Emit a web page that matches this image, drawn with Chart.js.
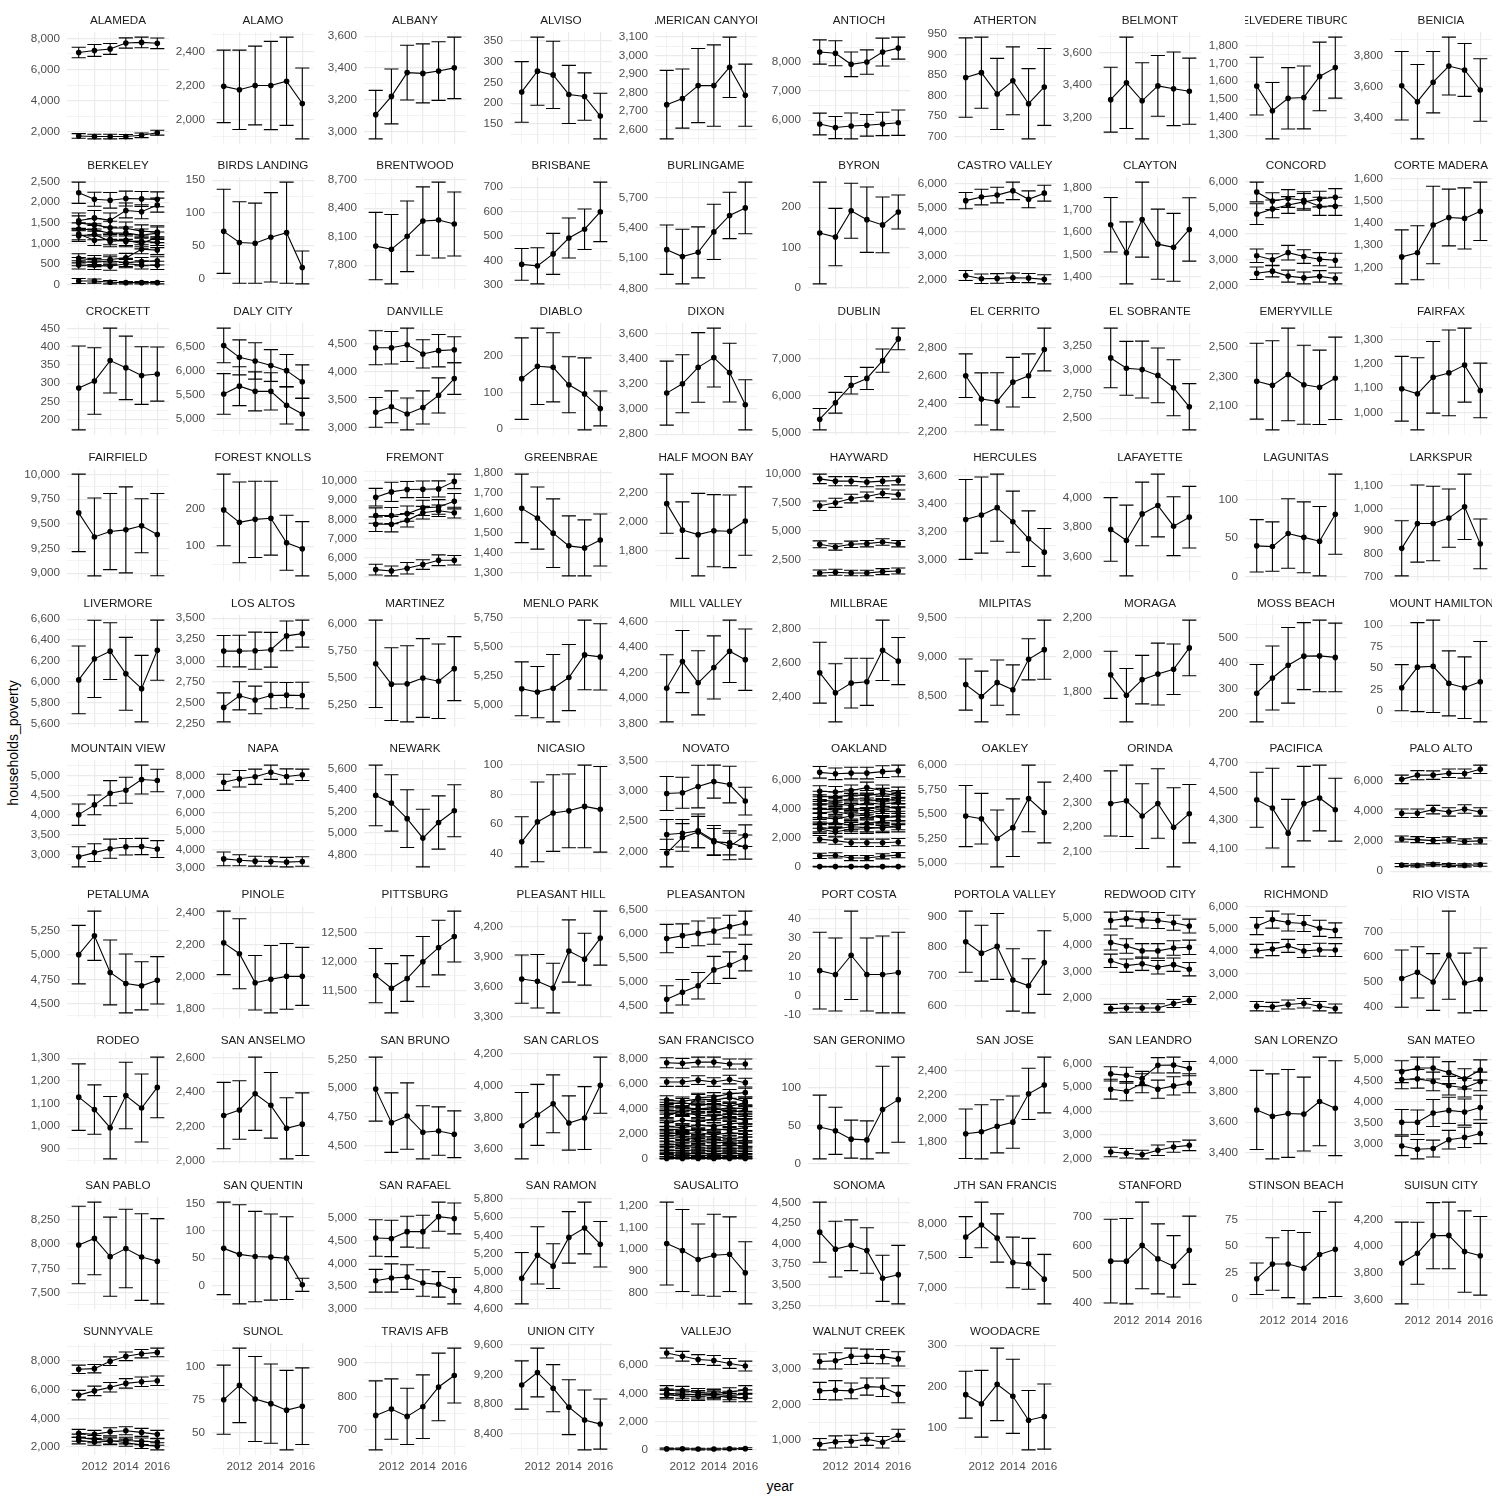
<!DOCTYPE html>
<html><head><meta charset="utf-8">
<script src="https://cdn.jsdelivr.net/npm/chart.js@4/dist/chart.umd.min.js"></script>
<style>
html,body{margin:0;padding:0;background:#fff;}
#wrap{position:relative;width:1500px;height:1500px;overflow:hidden;background:#fff;font-family:"Liberation Sans",Arial,sans-serif;}
#wrap canvas{position:absolute;}
.axt{position:absolute;font-size:14px;color:#000;white-space:nowrap;line-height:1;transform:translate(-50%,-50%);}
#ylab{transform:translate(-50%,-50%) rotate(-90deg);}
</style></head><body><div id="wrap">
<div id="ylab" class="axt" style="left:13px;top:743px;">households_poverty</div>
<div id="xlab" class="axt" style="left:780px;top:1486px;">year</div>
</div>
<script>
const years = [2011, 2012, 2013, 2014, 2015, 2016];
const cityNames = ["ALAMEDA","ALAMO","ALBANY","ALVISO","AMERICAN CANYON","ANTIOCH","ATHERTON","BELMONT","BELVEDERE TIBURON","BENICIA",
"BERKELEY","BIRDS LANDING","BRENTWOOD","BRISBANE","BURLINGAME","BYRON","CASTRO VALLEY","CLAYTON","CONCORD","CORTE MADERA",
"CROCKETT","DALY CITY","DANVILLE","DIABLO","DIXON","DUBLIN","EL CERRITO","EL SOBRANTE","EMERYVILLE","FAIRFAX",
"FAIRFIELD","FOREST KNOLLS","FREMONT","GREENBRAE","HALF MOON BAY","HAYWARD","HERCULES","LAFAYETTE","LAGUNITAS","LARKSPUR",
"LIVERMORE","LOS ALTOS","MARTINEZ","MENLO PARK","MILL VALLEY","MILLBRAE","MILPITAS","MORAGA","MOSS BEACH","MOUNT HAMILTON",
"MOUNTAIN VIEW","NAPA","NEWARK","NICASIO","NOVATO","OAKLAND","OAKLEY","ORINDA","PACIFICA","PALO ALTO",
"PETALUMA","PINOLE","PITTSBURG","PLEASANT HILL","PLEASANTON","PORT COSTA","PORTOLA VALLEY","REDWOOD CITY","RICHMOND","RIO VISTA",
"RODEO","SAN ANSELMO","SAN BRUNO","SAN CARLOS","SAN FRANCISCO","SAN GERONIMO","SAN JOSE","SAN LEANDRO","SAN LORENZO","SAN MATEO",
"SAN PABLO","SAN QUENTIN","SAN RAFAEL","SAN RAMON","SAUSALITO","SONOMA","SOUTH SAN FRANCISCO","STANFORD","STINSON BEACH","SUISUN CITY",
"SUNNYVALE","SUNOL","TRAVIS AFB","UNION CITY","VALLEJO","WALNUT CREEK","WOODACRE"];

const tickLabels = [
[2000,4000,6000,8000],[2000,2200,2400],[3000,3200,3400,3600],[150,200,250,300,350],[2600,2700,2800,2900,3000,3100],
[6000,7000,8000],[700,750,800,850,900,950],[3200,3400,3600],[1300,1400,1500,1600,1700,1800],[3400,3600,3800],
[0,500,1000,1500,2000,2500],[0,50,100,150],[7800,8100,8400,8700],[300,400,500,600,700],[4800,5100,5400,5700],
[0,100,200],[2000,3000,4000,5000,6000],[1400,1500,1600,1700,1800],[2000,3000,4000,5000,6000],[1100,1200,1300,1400,1500,1600],
[200,250,300,350,400,450],[5000,5500,6000,6500],[3000,3500,4000,4500],[0,100,200],[2800,3000,3200,3400,3600],
[5000,6000,7000],[2200,2400,2600,2800],[2500,2750,3000,3250],[1900,2100,2300,2500],[1000,1100,1200,1300],
[9000,9250,9500,9750,10000],[100,200],[5000,6000,7000,8000,9000,10000],[1300,1400,1500,1600,1700,1800],[1800,2000,2200],
[2500,5000,7500,10000],[3000,3200,3400,3600],[3600,3800,4000],[0,50,100],[700,800,900,1000,1100],
[5600,5800,6000,6200,6400,6600],[2250,2500,2750,3000,3250,3500],[5250,5500,5750,6000],[5000,5250,5500,5750],[3800,4000,4200,4400,4600],
[2400,2600,2800],[8500,9000,9500],[1800,2000,2200],[200,300,400,500],[0,25,50,75,100],
[3000,3500,4000,4500,5000],[3000,4000,5000,6000,7000,8000],[4800,5000,5200,5400,5600],[40,60,80,100],[2000,2500,3000,3500],
[0,2000,4000,6000],[5000,5250,5500,5750,6000],[2100,2200,2300,2400],[4100,4300,4500,4700],[0,2000,4000,6000],
[4500,4750,5000,5250],[1800,2000,2200,2400],[11500,12000,12500],[3300,3600,3900,4200],[4500,5000,5500,6000,6500],
[-10,0,10,20,30,40],[600,700,800,900],[2000,3000,4000,5000],[2000,3000,4000,5000,6000],[400,500,600,700],
[900,1000,1100,1200,1300],[2000,2200,2400,2600],[4500,4750,5000,5250],[3600,3800,4000,4200],[0,2000,4000,6000,8000],
[0,50,100],[1800,2000,2200,2400],[2000,3000,4000,5000,6000],[3400,3600,3800,4000],[3000,3500,4000,4500,5000],
[7500,7750,8000,8250],[0,50,100,150],[3000,3500,4000,4500,5000],[4600,4800,5000,5200,5400,5600,5800],[800,900,1000,1100,1200],
[3250,3500,3750,4000,4250,4500],[7000,7500,8000],[400,500,600,700],[0,25,50,75],[3600,3800,4000,4200],
[2000,4000,6000,8000],[50,75,100],[700,800,900],[8400,8800,9200,9600],[0,2000,4000,6000],
[1000,2000,3000],[100,200,300]
];

const estimates = [
/*ALAMEDA*/ [[7090,7220,7320,7700,7740,7680],[1730,1690,1690,1690,1770,1940]],
/*ALAMO*/ [[2195,2175,2200,2200,2225,2095]],
/*ALBANY*/ [[3105,3220,3370,3365,3380,3400]],
/*ALVISO*/ [[227,277,268,221,216,169]],
/*AMERICAN CANYON*/ [[2735,2768,2838,2838,2937,2786]],
/*ANTIOCH*/ [[8346,8302,7922,8000,8346,8480],[5866,5743,5799,5821,5866,5911]],
/*ATHERTON*/ [[844,856,804,836,780,821]],
/*BELMONT*/ [[3310,3414,3303,3395,3377,3362]],
/*BELVEDERE*/ [[1573,1436,1505,1510,1627,1676]],
/*BENICIA*/ [[3604,3502,3627,3731,3706,3577]],
/*BERKELEY*/ [[2230,2071,2047,2090,2080,2070],[1550,1620,1560,1800,1770,1930],[1500,1450,1380,1370,1300,1280],[1350,1330,1250,1250,1200,1250],[1230,1080,1100,1050,1050,1030],[1180,1220,1050,1080,1000,1150],[640,600,610,650,860,840],[560,540,580,540,560,580],[480,470,450,510,480,470],[90,90,60,50,50,50]],
/*BIRDS LANDING*/ [[72,55,54,63,70,17]],
/*BRENTWOOD*/ [[8000,7967,8103,8264,8274,8233]],
/*BRISBANE*/ [[384,378,427,492,528,599]],
/*BURLINGAME*/ [[5185,5116,5158,5361,5524,5599]],
/*BYRON*/ [[136,126,191,169,156,188]],
/*CASTRO VALLEY*/ [[5306,5456,5537,5714,5361,5619],[2177,2041,2054,2082,2068,2014]],
/*CLAYTON*/ [[1633,1507,1656,1546,1532,1612]],
/*CONCORD*/ [[5600,5250,5350,5280,5050,5050],[4750,4950,5100,5220,5330,5400],[3150,3000,3270,3120,3020,2980],[2480,2560,2370,2300,2360,2280]],
/*CORTE MADERA*/ [[1247,1266,1391,1425,1421,1453]],
/*CROCKETT*/ [[287,306,362,342,321,325]],
/*DALY CITY*/ [[6534,6285,6210,6115,6007,5776],[5520,5683,5574,5574,5283,5100]],
/*DANVILLE*/ [[4425,4425,4477,4315,4373,4390],[3277,3375,3248,3364,3578,3877]],
/*DIABLO*/ [[138,172,169,121,96,56]],
/*DIXON*/ [[3126,3200,3330,3408,3289,3033]],
/*DUBLIN*/ [[5365,5808,6278,6461,6939,7522]],
/*EL CERRITO*/ [[2600,2435,2418,2554,2600,2786]],
/*EL SOBRANTE*/ [[3120,3013,3000,2940,2813,2617]],
/*EMERYVILLE*/ [[2267,2239,2313,2243,2226,2287]],
/*FAIRFAX*/ [[1097,1076,1144,1162,1194,1090]],
/*FAIRFIELD*/ [[9611,9367,9422,9439,9480,9391]],
/*FOREST KNOLLS*/ [[196,163,171,174,109,93]],
/*FREMONT*/ [[9157,9435,9557,9574,9591,9983],[8200,8200,8300,8600,8650,8950],[7750,7750,7950,8350,8450,8350],[5383,5313,5453,5644,5870,5870]],
/*GREENBRAE*/ [[1621,1573,1498,1435,1425,1464]],
/*HALF MOON BAY*/ [[2127,1944,1913,1940,1936,2007]],
/*HAYWARD*/ [[9568,9366,9366,9280,9366,9424],[7212,7471,7846,8019,8306,8191],[3834,3604,3834,3892,4036,3892],[1325,1382,1325,1325,1440,1498]],
/*HERCULES*/ [[3289,3320,3373,3273,3152,3056]],
/*LAFAYETTE*/ [[3783,3708,3888,3945,3805,3866]],
/*LAGUNITAS*/ [[40,39,56,51,46,81]],
/*LARKSPUR*/ [[824,934,934,958,1008,844]],
/*LIVERMORE*/ [[6019,6220,6294,6077,5935,6303]],
/*LOS ALTOS*/ [[3110,3110,3114,3126,3290,3317],[2443,2580,2531,2584,2588,2584]],
/*MARTINEZ*/ [[5629,5440,5443,5497,5467,5584]],
/*MENLO PARK*/ [[5141,5113,5146,5238,5432,5415]],
/*MILL VALLEY*/ [[4076,4286,4119,4240,4367,4301]],
/*MILLBRAE*/ [[2543,2425,2482,2490,2674,2611]],
/*MILPITAS*/ [[8642,8488,8667,8575,8967,9092]],
/*MORAGA*/ [[1892,1782,1866,1896,1922,2037]],
/*MOSS BEACH*/ [[281,341,391,427,428,422]],
/*MOUNT HAMILTON*/ [[27,51,52,32,27,34]],
/*MOUNTAIN VIEW*/ [[4008,4254,4549,4623,4893,4869],[2943,3050,3148,3197,3205,3140]],
/*NAPA*/ [[7664,7859,7965,8212,7982,8071],[3495,3424,3371,3353,3318,3353]],
/*NEWARK*/ [[5349,5279,5133,4952,5097,5206]],
/*NICASIO*/ [[48,61.5,67.5,69,72,70]],
/*NOVATO*/ [[2962,2973,3077,3159,3110,2835],[2280,2300,2340,2180,2080,2260],[1970,2230,2320,2160,2140,2070]],
/*OAKLAND*/ [[6500,6400,6450,6450,6550,6600],[5200,5150,5250,5450,5250,5100],[4850,4800,4950,4900,5050,4900],[4600,4500,4700,4650,4500,4700],[4300,4350,4200,4400,4300,4450],[4000,3900,4050,3950,4150,4000],[3700,3800,3600,3700,3850,3750],[3400,3300,3500,3550,3350,3500],[2950,3050,2850,3000,3150,3200],[2700,2600,2750,2700,2650,2850],[2600,2400,2600,2600,2750,2700],[1900,1800,1650,1650,1650,1700],[750,780,600,600,720,800],[10,10,10,10,10,10]],
/*OAKLEY*/ [[5480,5453,5252,5362,5659,5516]],
/*ORINDA*/ [[2297,2308,2245,2297,2199,2255]],
/*PACIFICA*/ [[4442,4384,4211,4415,4454,4373]],
/*PALO ALTO*/ [[6064,6342,6342,6470,6448,6726],[3829,3829,4064,3914,4107,3914],[2128,2085,2021,2064,1957,2000],[405,384,448,405,384,427]],
/*PETALUMA*/ [[5003,5197,4820,4707,4683,4740]],
/*PINOLE*/ [[2213,2145,1964,1986,2004,2004]],
/*PITTSBURG*/ [[11754,11536,11704,11994,12237,12427]],
/*PLEASANT HILL*/ [[3678,3656,3588,3958,3877,4087]],
/*PLEASANTON*/ [[5905,5966,6014,6061,6155,6230],[4635,4784,4919,5250,5351,5507]],
/*PORT COSTA*/ [[13,11,21,11,11,12]],
/*PORTOLA VALLEY*/ [[817,778,801,687,667,746]],
/*REDWOOD CITY*/ [[4903,4976,4927,4903,4818,4697],[4085,3952,3770,3770,3879,3903],[3400,3218,3291,3158,3255,3085],[1613,1637,1637,1637,1806,1915]],
/*RICHMOND*/ [[5116,5406,5275,5232,5015,4928],[4000,4087,4232,4000,4058,4043],[1536,1507,1609,1667,1536,1435]],
/*RIO VISTA*/ [[514,539,500,608,496,511]],
/*RODEO*/ [[1128,1073,993,1135,1080,1171]],
/*SAN ANSELMO*/ [[2264,2296,2390,2323,2190,2214]],
/*SAN BRUNO*/ [[4992,4701,4758,4617,4628,4600]],
/*SAN CARLOS*/ [[3747,3815,3885,3764,3795,4002]],
/*SAN FRANCISCO*/ [[7700,7650,7750,7750,7600,7600],[6150,6150,6300,6150,6350,6100],[3400,3900,4900,4950,5200,5300],[4700,4600,4800,4700,4900,4600],[4400,4500,4300,4400,4200,4500],[4200,4100,4000,3900,4100,4000],[3900,3800,4000,4100,3700,3900],[3600,3700,3500,3400,3600,3500],[2900,3100,3000,3200,3300,3100],[2600,2500,2700,2600,2800,2900],[2300,2400,2200,2400,2300,2500],[2100,2000,2100,1900,2100,2000],[1900,1800,1700,1800,1600,1700],[1600,1700,1500,1500,1400,1500],[1400,1300,1400,1300,1300,1200],[1200,1100,1000,1100,1000,1100],[900,1000,900,800,900,800],[700,650,700,600,650,600],[500,450,400,450,400,450],[300,250,300,250,300,250],[100,120,100,90,110,100],[20,20,20,20,20,20]],
/*SAN GERONIMO*/ [[48,43,32,31,71,84]],
/*SAN JOSE*/ [[1869,1885,1932,1967,2207,2282]],
/*SAN LEANDRO*/ [[5559,5503,5365,5917,5931,5779],[4917,4834,5166,4917,5055,5166],[2290,2235,2179,2359,2497,2566]],
/*SAN LORENZO*/ [[3680,3638,3657,3653,3735,3691]],
/*SAN MATEO*/ [[4713,4798,4798,4690,4543,4752],[4527,4543,4481,4380,4333,4481],[3515,3515,3733,3795,3756,3865],[2953,2876,2891,3101,3155,3248]],
/*SAN PABLO*/ [[7990,8057,7870,7953,7866,7823]],
/*SAN QUENTIN*/ [[68,57,53,52,50,1]],
/*SAN RAFAEL*/ [[4560,4550,4700,4700,5030,4990],[3620,3680,3700,3570,3540,3400]],
/*SAN RAMON*/ [[4932,5182,5064,5379,5482,5304]],
/*SAUSALITO*/ [[1026,994,952,972,977,891]],
/*SONOMA*/ [[4139,3933,3980,3917,3579,3623]],
/*SOUTH SAN FRANCISCO*/ [[7792,7980,7777,7396,7375,7136]],
/*STANFORD*/ [[546,546,601,554,528,584]],
/*STINSON BEACH*/ [[19,33,33,29,42,47]],
/*SUISUN CITY*/ [[3873,3946,4078,4080,3959,3927]],
/*SUNNYVALE*/ [[7411,7456,7977,8317,8498,8589],[5615,5909,6159,6430,6544,6612],[2951,2883,3064,3132,3019,2883],[2650,2550,2450,2300,2150,2050],[2450,2350,2400,2450,2400,2350]],
/*SUNOL*/ [[75,86,75.5,72,67,70]],
/*TRAVIS AFB*/ [[743,762,740,769,828,862]],
/*UNION CITY*/ [[9058,9226,9015,8760,8588,8532]],
/*VALLEJO*/ [[6870,6640,6408,6338,6129,5944],[4250,4200,4050,4000,4100,4250],[4000,3950,3900,3950,3850,3950],[3900,3800,3800,3850,3700,3700],[50,60,40,40,60,70]],
/*WALNUT CREEK*/ [[3203,3221,3350,3350,3341,3276],[2378,2396,2378,2498,2479,2286],[880,945,963,1018,935,1129]],
/*WOODACRE*/ [[180,158,205,176,118,127]]
];

const margins = [
/*ALAMEDA*/ [[340,380,350,330,340,340],[150,150,150,130,150,160]],
/*ALAMO*/ [[212,232,230,258,258,207]],
/*ALBANY*/ [[153,173,173,186,185,194]],
/*ALVISO*/ [[73,82,81,70,57,55]],
/*AMERICAN CANYON*/ [[185,160,200,220,163,168]],
/*ANTIOCH*/ [[419,430,425,419,480,380],[374,380,447,374,402,436]],
/*ATHERTON*/ [[97,87,87,83,86,94]],
/*BELMONT*/ [[200,282,235,187,227,204]],
/*BELVEDERE*/ [[161,157,171,175,191,170]],
/*BENICIA*/ [[220,239,197,186,170,201]],
/*BERKELEY*/ [[258,170,190,180,180,180],[190,180,180,180,170,170],[170,150,160,150,150,150],[150,150,150,150,150,150],[140,130,130,130,130,130],[130,130,130,130,130,130],[110,110,110,110,110,110],[100,100,100,100,100,100],[100,100,100,100,100,100],[60,50,40,30,30,30]],
/*BIRDS LANDING*/ [[64,62,61,68,77,25]],
/*BRENTWOOD*/ [[355,365,372,360,400,337]],
/*BRISBANE*/ [[65,74,84,82,83,122]],
/*BURLINGAME*/ [[245,271,253,274,230,256]],
/*BYRON*/ [[126,71,68,81,69,42]],
/*CASTRO VALLEY*/ [[340,326,326,367,353,333],[210,200,200,200,190,190]],
/*CLAYTON*/ [[122,139,168,157,152,142]],
/*CONCORD*/ [[380,320,340,330,350,350],[400,340,320,320,300,330],[260,230,280,260,250,270],[240,220,230,230,220,210]],
/*CORTE MADERA*/ [[122,122,175,128,138,132]],
/*CROCKETT*/ [[115,91,89,87,79,74]],
/*DALY CITY*/ [[363,366,380,332,339,352],[424,407,407,390,390,332]],
/*DANVILLE*/ [[303,288,297,251,288,231],[265,283,283,294,312,280]],
/*DIABLO*/ [[112,105,95,77,99,48]],
/*DIXON*/ [[254,230,276,234,233,199]],
/*DUBLIN*/ [[287,278,235,296,313,291]],
/*EL CERRITO*/ [[155,185,203,176,155,152]],
/*EL SOBRANTE*/ [[307,277,293,282,288,238]],
/*EMERYVILLE*/ [[257,302,314,268,252,279]],
/*FAIRFAX*/ [[133,148,147,176,152,112]],
/*FAIRFIELD*/ [[392,394,385,435,273,416]],
/*FOREST KNOLLS*/ [[95,107,101,98,73,72]],
/*FREMONT*/ [[461,500,420,430,420,380],[400,420,400,400,380,400],[380,400,350,330,300,280],[280,260,300,250,280,250]],
/*GREENBRAE*/ [[170,154,170,149,139,129]],
/*HALF MOON BAY*/ [[204,195,285,249,251,236]],
/*HAYWARD*/ [[418,400,400,400,400,380],[420,400,380,400,380,400],[300,280,280,280,280,280],[260,260,240,240,260,260]],
/*HERCULES*/ [[284,271,239,218,198,169]],
/*LAFAYETTE*/ [[215,239,215,212,199,208]],
/*LAGUNITAS*/ [[34,32,45,46,45,52]],
/*LARKSPUR*/ [[122,171,165,129,145,110]],
/*LIVERMORE*/ [[324,370,271,349,318,288]],
/*LOS ALTOS*/ [[185,187,220,206,176,160],[172,166,164,157,149,157]],
/*MARTINEZ*/ [[405,337,353,365,346,297]],
/*MENLO PARK*/ [[231,220,289,284,299,284]],
/*MILL VALLEY*/ [[264,244,252,248,245,241]],
/*MILLBRAE*/ [[178,170,146,138,177,138]],
/*MILPITAS*/ [[329,327,292,321,265,381]],
/*MORAGA*/ [[127,144,131,167,136,150]],
/*MOSS BEACH*/ [[113,126,149,132,141,135]],
/*MOUNT HAMILTON*/ [[27,52,54,38,36,47]],
/*MOUNTAIN VIEW*/ [[270,250,316,328,365,283],[254,225,242,209,205,213]],
/*NAPA*/ [[442,450,415,389,415,310],[371,300,270,260,260,260]],
/*NEWARK*/ [[282,262,268,268,248,242]],
/*NICASIO*/ [[17,27,26,25,28,29]],
/*NOVATO*/ [[283,258,354,275,305,231],[250,230,280,250,220,180],[230,230,260,220,200,200]],
/*OAKLAND*/ [[400,400,400,400,400,400],[380,380,380,380,380,380],[350,350,350,350,350,350],[350,350,350,350,350,350],[330,330,330,330,330,330],[330,330,330,330,330,330],[320,320,320,320,320,320],[320,320,320,320,320,320],[300,300,300,300,300,300],[300,300,300,300,300,300],[300,300,300,300,300,300],[250,250,250,250,250,250],[180,180,180,180,180,180],[20,20,20,20,20,20]],
/*OAKLEY*/ [[311,257,289,293,339,309]],
/*ORINDA*/ [[134,147,133,143,163,120]],
/*PACIFICA*/ [[190,275,233,257,227,217]],
/*PALO ALTO*/ [[280,300,280,280,300,280],[280,280,280,280,280,280],[200,200,200,200,180,200],[100,100,100,100,100,100]],
/*PETALUMA*/ [[300,253,333,302,247,243]],
/*PINOLE*/ [[198,218,170,210,205,181]],
/*PITTSBURG*/ [[467,425,394,433,470,439]],
/*PLEASANT HILL*/ [[241,267,248,311,259,270]],
/*PLEASANTON*/ [[297,247,260,274,237,250],[284,267,277,284,277,277]],
/*PORT COSTA*/ [[20,19,23,19,20,21]],
/*PORTOLA VALLEY*/ [[104,95,112,106,92,108]],
/*REDWOOD CITY*/ [[315,280,300,300,280,260],[280,270,270,270,270,270],[250,250,250,250,250,250],[160,160,160,160,150,150]],
/*RICHMOND*/ [[384,380,380,360,360,330],[300,290,290,290,290,290],[210,200,200,210,210,200]],
/*RIO VISTA*/ [[115,103,114,177,120,126]],
/*RODEO*/ [[147,109,138,147,150,134]],
/*SAN ANSELMO*/ [[192,169,212,190,177,181]],
/*SAN BRUNO*/ [[278,258,288,231,210,203]],
/*SAN CARLOS*/ [[209,192,182,171,198,177]],
/*SAN FRANCISCO*/ [[400,400,400,400,400,400],[350,350,350,350,350,350],[350,350,350,350,350,350],[350,350,350,350,350,350],[330,330,330,330,330,330],[330,330,330,330,330,330],[320,320,320,320,320,320],[300,300,300,300,300,300],[300,300,300,300,300,300],[300,300,300,300,300,300],[280,280,280,280,280,280],[260,260,260,260,260,260],[250,250,250,250,250,250],[240,240,240,240,240,240],[230,230,230,230,230,230],[220,220,220,220,220,220],[200,200,200,200,200,200],[180,180,180,180,180,180],[150,150,150,150,150,150],[120,120,120,120,120,120],[80,80,80,80,80,80],[30,30,30,30,30,30]],
/*SAN GERONIMO*/ [[42,31,25,25,57,56]],
/*SAN JOSE*/ [[209,229,225,221,217,236]],
/*SAN LEANDRO*/ [[300,330,300,320,330,300],[414,400,400,380,380,400],[200,200,180,220,220,220]],
/*SAN LORENZO*/ [[257,276,285,240,288,308]],
/*SAN MATEO*/ [[260,260,260,260,240,240],[220,220,220,220,220,220],[300,290,320,310,310,290],[230,230,200,220,240,240]],
/*SAN PABLO*/ [[397,372,405,402,444,437]],
/*SAN QUENTIN*/ [[85,91,83,79,76,12]],
/*SAN RAFAEL*/ [[400,400,340,360,320,340],[250,310,270,290,280,290]],
/*SAN RAMON*/ [[282,314,245,282,284,250]],
/*SAUSALITO*/ [[191,189,164,189,172,143]],
/*SONOMA*/ [[365,339,308,276,280,355]],
/*SOUTH SAN FRANCISCO*/ [[318,356,376,394,396,386]],
/*STANFORD*/ [[146,149,151,122,107,119]],
/*STINSON BEACH*/ [[15,25,32,34,41,45]],
/*SUISUN CITY*/ [[307,233,248,250,305,295]],
/*SUNNYVALE*/ [[290,290,300,300,290,300],[330,330,330,330,330,330],[280,280,280,280,280,280],[250,250,250,250,250,250],[230,230,230,230,230,230]],
/*SUNOL*/ [[26.5,28.6,32.6,30.4,30.5,29.4]],
/*TRAVIS AFB*/ [[103,90,84,95,101,82]],
/*UNION CITY*/ [[324,328,317,369,403,337]],
/*VALLEJO*/ [[350,350,350,350,350,350],[300,300,300,300,300,300],[300,300,300,300,300,300],[300,300,300,300,300,300],[60,60,60,60,60,60]],
/*WALNUT CREEK*/ [[210,230,230,200,200,200],[240,270,220,240,260,240],[160,170,170,170,160,170]],
/*WOODACRE*/ [[57,81,88,90,72,79]]
];

// ---------- layout ----------
const FONT = '"Liberation Sans", Arial, sans-serif';
const NCOL = 10;
const colLeft = [67, 212, 364, 510, 655, 808, 954, 1099, 1245, 1390];
const rowTop0 = 31.7, rowPitch = 145.7;
const PW = 102, PH = 112;
const AX = 62, ST = 28, RP = 16, XB = 22;
const xMin = 2010.255, xMax = 2016.745;
const GRID = '#EBEBEB';

const errorBarPlugin = {
  id: 'errbars',
  afterDatasetsDraw(chart) {
    const ctx = chart.ctx, a = chart.chartArea;
    const x = chart.scales.x, y = chart.scales.y;
    ctx.save();
    ctx.beginPath(); ctx.rect(a.left, a.top, a.right - a.left, a.bottom - a.top); ctx.clip();
    ctx.strokeStyle = '#000'; ctx.lineWidth = 1.1;
    chart.data.datasets.forEach(ds => {
      ds.data.forEach((pt, i) => {
        const m = ds.errs[i];
        const px = x.getPixelForValue(pt.x);
        const hw = x.getPixelForValue(pt.x + 0.45) - px;
        const yt = y.getPixelForValue(pt.y + m), yb = y.getPixelForValue(pt.y - m);
        ctx.beginPath();
        ctx.moveTo(px, yt); ctx.lineTo(px, yb);
        ctx.moveTo(px - hw, yt); ctx.lineTo(px + hw, yt);
        ctx.moveTo(px - hw, yb); ctx.lineTo(px + hw, yb);
        ctx.stroke();
      });
    });
    ctx.restore();
  }
};

const stripPlugin = {
  id: 'strip',
  afterDraw(chart, args, opts) {
    const a = chart.chartArea, ctx = chart.ctx;
    ctx.save();
    ctx.beginPath(); ctx.rect(a.left, 0, a.right - a.left, a.top); ctx.clip();
    ctx.fillStyle = '#1A1A1A';
    ctx.font = '11.7px ' + FONT;
    ctx.textAlign = 'center'; ctx.textBaseline = 'middle';
    ctx.fillText(opts.text, (a.left + a.right) / 2, a.top - 11.7);
    ctx.restore();
  }
};

function yTicksFor(major, lo, hi) {
  const step = major.length > 1 ? major[1] - major[0] : (hi - lo);
  const ext = [major[0] - step, ...major, major[major.length - 1] + step];
  const out = [];
  for (let k = 0; k < ext.length - 1; k++) {
    const mid = (ext[k] + ext[k + 1]) / 2;
    if (mid >= lo && mid <= hi) out.push({ value: mid, minor: true });
  }
  major.forEach(v => { if (v >= lo && v <= hi) out.push({ value: v, minor: false }); });
  out.sort((p, q) => p.value - q.value);
  return out;
}

const fmt = v => v.toLocaleString('en-US');
const wrap = document.getElementById('wrap');
const N = cityNames.length;

for (let i = 0; i < N; i++) {
  const r = Math.floor(i / NCOL), c = i % NCOL;
  const isBottom = (i + NCOL) >= N;
  const top = Math.round(rowTop0 + r * rowPitch);
  const cv = document.createElement('canvas');
  cv.width = AX + PW + RP; cv.height = ST + PH + XB;
  cv.style.left = (colLeft[c] - AX) + 'px';
  cv.style.top = (top - ST) + 'px';
  cv.style.width = cv.width + 'px'; cv.style.height = cv.height + 'px';
  wrap.appendChild(cv);

  const est = estimates[i], mar = margins[i];
  let lo = Infinity, hi = -Infinity;
  est.forEach((s, k) => s.forEach((v, j) => {
    lo = Math.min(lo, v - mar[k][j]); hi = Math.max(hi, v + mar[k][j]);
  }));
  const pad = (hi - lo) * 0.05;
  const yMin = lo - pad, yMax = hi + pad;
  const yt = yTicksFor(tickLabels[i], yMin, yMax);

  const datasets = est.map((s, k) => ({
    data: s.map((v, j) => ({ x: years[j], y: v })),
    errs: mar[k],
    borderColor: '#000', borderWidth: 1.1,
    pointRadius: 2.8, pointBackgroundColor: '#000', pointBorderWidth: 0,
    pointHoverRadius: 2.8, tension: 0, fill: false
  }));

  const gridW = ctx => (ctx.tick && ctx.tick.minor) ? 0.6 : 1.2;

  new Chart(cv, {
    type: 'line',
    data: { datasets },
    plugins: [errorBarPlugin, stripPlugin],
    options: {
      responsive: false, animation: false, devicePixelRatio: 1, events: [],
      layout: { padding: { top: ST, right: RP, left: 0, bottom: 0 }, autoPadding: false },
      plugins: { legend: { display: false }, tooltip: { enabled: false }, strip: { text: cityNames[i] } },
      scales: {
        x: {
          type: 'linear', min: xMin, max: xMax, bounds: 'data',
          afterBuildTicks: s => { s.ticks = years.map(v => ({ value: v, minor: v % 2 === 1 })); },
          afterFit: s => { s.height = XB; },
          grid: { drawTicks: false, color: GRID, lineWidth: gridW },
          border: { display: false },
          ticks: {
            display: isBottom, autoSkip: false, maxRotation: 0, minRotation: 0, padding: 5,
            color: '#4D4D4D', font: { family: FONT, size: 11.7 },
            callback: function (v, idx) { const t = this.ticks[idx]; return (t && t.minor) ? '' : String(v); }
          }
        },
        y: {
          type: 'linear', min: yMin, max: yMax, bounds: 'data',
          afterBuildTicks: s => { s.ticks = yt.map(t => ({ value: t.value, minor: t.minor })); },
          afterFit: s => { s.width = AX; },
          grid: { drawTicks: false, color: GRID, lineWidth: gridW },
          border: { display: false },
          ticks: {
            autoSkip: false, padding: 7, color: '#4D4D4D', font: { family: FONT, size: 11.7 },
            callback: function (v, idx) { const t = this.ticks[idx]; return (t && t.minor) ? '' : fmt(v); }
          }
        }
      }
    }
  });
}
</script>
</body></html>
